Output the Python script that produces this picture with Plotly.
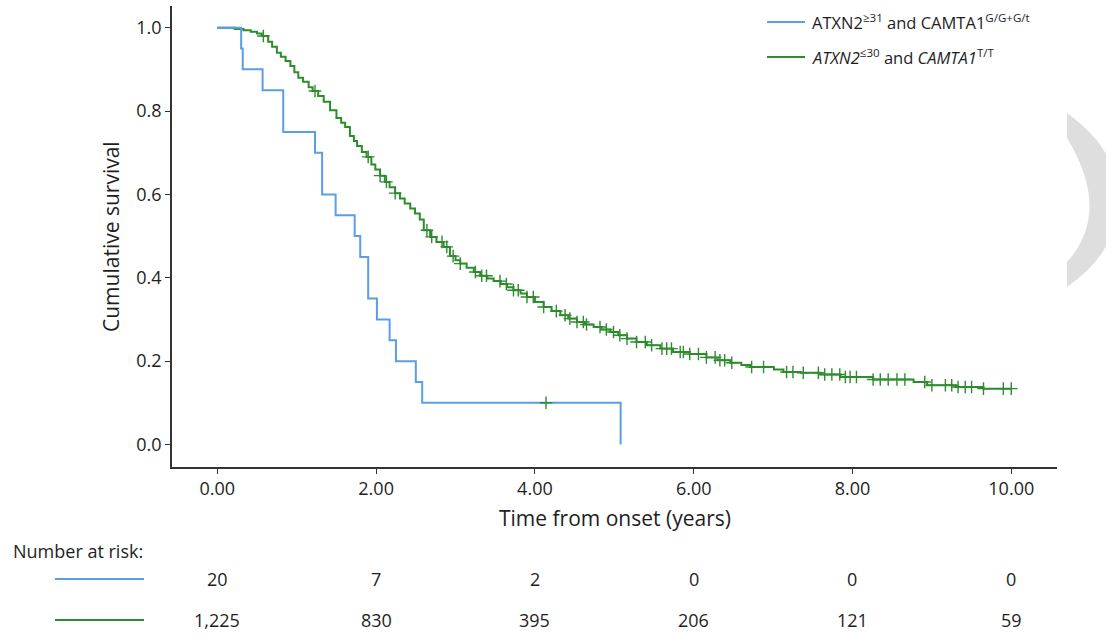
import plotly.graph_objects as go

# ---------------- data ----------------
# Group 1: ATXN2>=31 and CAMTA1 G/G+G/t  (step function: time, survival after step)
blue_times = [0.00, 0.30, 0.32, 0.57, 0.83, 1.23, 1.32, 1.49, 1.73, 1.80, 1.90, 2.01, 2.17, 2.25, 2.50, 2.58, 5.08]
blue_surv = [1.00, 0.95, 0.90, 0.85, 0.75, 0.70, 0.60, 0.55, 0.50, 0.45, 0.35, 0.30, 0.25, 0.20, 0.15, 0.10, 0.00]
blue_censor_times = [4.14]

# Group 2: ATXN2<=30 and CAMTA1 T/T
green_times = [0.00, 0.22, 0.33, 0.42, 0.50, 0.56, 0.64, 0.69, 0.75, 0.80,
               0.86, 0.92, 0.97, 1.02, 1.08, 1.15, 1.20, 1.27, 1.34, 1.42,
               1.50, 1.56, 1.61, 1.67, 1.72, 1.76, 1.82, 1.88, 1.94, 1.99,
               2.05, 2.11, 2.17, 2.24, 2.30, 2.36, 2.43, 2.49, 2.55, 2.60,
               2.68, 2.76, 2.85, 2.93, 3.00, 3.06, 3.14, 3.23, 3.31, 3.40,
               3.48, 3.57, 3.65, 3.73, 3.82, 3.90, 4.00, 4.11, 4.21, 4.32,
               4.42, 4.53, 4.63, 4.74, 4.84, 4.95, 5.05, 5.16, 5.28, 5.41,
               5.58, 5.74, 5.95, 6.16, 6.30, 6.46, 6.60, 6.71, 7.01, 7.13,
               7.35, 7.60, 7.85, 8.26, 8.77, 8.94, 9.30, 9.65, 10.00]
green_surv = [1.000, 0.997, 0.994, 0.990, 0.986, 0.980, 0.966, 0.954, 0.940, 0.930,
              0.920, 0.908, 0.893, 0.880, 0.870, 0.857, 0.848, 0.836, 0.822, 0.802,
              0.783, 0.772, 0.762, 0.740, 0.728, 0.716, 0.702, 0.690, 0.672, 0.660,
              0.645, 0.630, 0.617, 0.603, 0.590, 0.578, 0.566, 0.554, 0.540, 0.514,
              0.498, 0.486, 0.474, 0.452, 0.442, 0.434, 0.424, 0.414, 0.405, 0.398,
              0.392, 0.385, 0.377, 0.370, 0.362, 0.354, 0.342, 0.330, 0.320, 0.310,
              0.302, 0.294, 0.288, 0.282, 0.276, 0.270, 0.262, 0.254, 0.246, 0.238,
              0.230, 0.222, 0.217, 0.209, 0.202, 0.196, 0.191, 0.186, 0.180, 0.174,
              0.172, 0.168, 0.162, 0.156, 0.150, 0.142, 0.138, 0.134, 0.134]
green_censor_times = [0.58, 1.23, 1.90, 2.05, 2.13, 2.24, 2.64, 2.70, 2.83, 2.89,
                      2.97, 3.06, 3.25, 3.33, 3.39, 3.56, 3.64, 3.73, 3.79, 3.90,
                      3.98, 4.11, 4.27, 4.38, 4.44, 4.53, 4.61, 4.65, 4.82, 4.90,
                      4.99, 5.07, 5.16, 5.28, 5.39, 5.47, 5.60, 5.66, 5.72, 5.83,
                      5.87, 5.95, 6.06, 6.16, 6.27, 6.33, 6.39, 6.48, 6.73, 6.88,
                      7.17, 7.25, 7.38, 7.57, 7.65, 7.74, 7.84, 7.91, 7.97, 8.05,
                      8.26, 8.35, 8.45, 8.56, 8.66, 8.91, 9.00, 9.17, 9.25, 9.33,
                      9.42, 9.50, 9.65, 9.90, 10.00]

x_ticks = [0, 2, 4, 6, 8, 10]
x_tick_labels = ["0.00", "2.00", "4.00", "6.00", "8.00", "10.00"]
y_ticks = [0.0, 0.2, 0.4, 0.6, 0.8, 1.0]
y_tick_labels = ["0.0", "0.2", "0.4", "0.6", "0.8", "1.0"]
risk_blue = ["20", "7", "2", "0", "0", "0"]
risk_green = ["1,225", "830", "395", "206", "121", "59"]

name_blue = "ATXN2<sup>≥31</sup> and CAMTA1<sup>G/G+G/t</sup>"
name_green = "<i>ATXN2</i><sup>≤30</sup> and <i>CAMTA1</i><sup>T/T</sup>"

BLUE = "#5b9de8"
GREEN = "#2e8b2e"
FONT = "Open Sans"
TXT = "#1e1e1e"


def step_value(times, surv, t):
    v = surv[0]
    for ti, si in zip(times, surv):
        if ti <= t:
            v = si
    return v


fig = go.Figure()

fig.add_trace(go.Scatter(x=green_times, y=green_surv, mode="lines", line_shape="hv",
                         line=dict(color=GREEN, width=2), showlegend=False, hoverinfo="skip"))
fig.add_trace(go.Scatter(x=blue_times, y=blue_surv, mode="lines", line_shape="hv",
                         line=dict(color=BLUE, width=2), showlegend=False, hoverinfo="skip"))
fig.add_trace(go.Scatter(x=green_censor_times,
                         y=[step_value(green_times, green_surv, t) for t in green_censor_times],
                         mode="markers",
                         marker=dict(symbol="cross-thin-open", size=9, color=GREEN,
                                     line=dict(color=GREEN, width=1.4)),
                         showlegend=False, hoverinfo="skip"))
fig.add_trace(go.Scatter(x=blue_censor_times,
                         y=[step_value(blue_times, blue_surv, t) for t in blue_censor_times],
                         mode="markers",
                         marker=dict(symbol="cross-thin-open", size=9, color=GREEN,
                                     line=dict(color=GREEN, width=1.4)),
                         showlegend=False, hoverinfo="skip"))

W, H = 1106, 637
L, R, T, B = 172, 49, 6, 170
pw, ph = W - L - R, H - T - B


def px(xp):
    return (xp - L) / pw


def py(yp):
    return (H - B - yp) / ph


shapes = []
annotations = []

# custom legend
for yy, col, txt in [(22, BLUE, name_blue), (57, GREEN, name_green)]:
    shapes.append(dict(type="line", xref="paper", yref="paper", x0=px(767), x1=px(805),
                       y0=py(yy), y1=py(yy), line=dict(color=col, width=2)))
    annotations.append(dict(xref="paper", yref="paper", x=px(810), y=py(yy), text=txt,
                            showarrow=False, xanchor="left", yanchor="middle",
                            font=dict(family=FONT, size=16.5, color=TXT)))

# axis titles
annotations.append(dict(xref="paper", yref="paper", x=0.5, y=py(518), text="Time from onset (years)",
                        showarrow=False, xanchor="center", yanchor="middle",
                        font=dict(family=FONT, size=21, color=TXT)))
annotations.append(dict(xref="paper", yref="paper", x=px(111), y=py(237), text="Cumulative survival",
                        showarrow=False, xanchor="center", yanchor="middle", textangle=-90,
                        font=dict(family=FONT, size=21, color=TXT)))

# number at risk table
annotations.append(dict(xref="paper", yref="paper", x=px(11), y=py(551), text="Number at risk:",
                        showarrow=False, xanchor="left", yanchor="middle",
                        font=dict(family=FONT, size=18, color=TXT)))
for yy, col, vals in [(579, BLUE, risk_blue), (620, GREEN, risk_green)]:
    shapes.append(dict(type="line", xref="paper", yref="paper", x0=px(55), x1=px(144),
                       y0=py(yy), y1=py(yy), line=dict(color=col, width=2)))
    for xt, v in zip(x_ticks, vals):
        annotations.append(dict(xref="x", yref="paper", x=xt, y=py(yy), text=v,
                                showarrow=False, xanchor="center", yanchor="middle",
                                font=dict(family=FONT, size=18, color=TXT)))

# grey decorative crescent at right edge
pts = "M {a},{b} Q {c},{d} {e},{f} L {g},{h} Q {i},{j} {k},{l} L {m},{n} Q {o},{p} {a},{q} Z".format(
    a=px(1067), b=py(113), c=px(1097), d=py(135), e=px(1108), f=py(158),
    g=px(1108), h=py(242), i=px(1097), j=py(266), k=px(1067), l=py(287),
    m=px(1067), n=py(262), o=px(1112), p=py(212), q=py(138))
shapes.append(dict(type="path", xref="paper", yref="paper", path=pts,
                   fillcolor="#dedede", line=dict(width=0), layer="below"))

fig.update_layout(
    width=W, height=H,
    margin=dict(l=L, r=R, t=T, b=B, pad=0),
    paper_bgcolor="white", plot_bgcolor="white",
    showlegend=False,
    shapes=shapes, annotations=annotations,
    font=dict(family=FONT, size=15, color=TXT),
    xaxis=dict(range=[-0.571, 10.576], tickvals=x_ticks, ticktext=x_tick_labels,
               showgrid=False, zeroline=False, showline=True, linecolor="#333333", linewidth=1.5,
               ticks="outside", ticklen=5, tickcolor="#333333", tickwidth=1.2,
               tickfont=dict(family=FONT, size=18, color=TXT)),
    yaxis=dict(range=[-0.054, 1.052], tickvals=y_ticks, ticktext=y_tick_labels,
               showgrid=False, zeroline=False, showline=True, linecolor="#333333", linewidth=1.5,
               ticks="outside", ticklen=5, tickcolor="#333333", tickwidth=1.2,
               tickfont=dict(family=FONT, size=18, color=TXT)),
)

fig.write_html("out.html", config={"displayModeBar": False},
               post_script="document.body.style.margin='0px';document.body.style.overflow='hidden';")
